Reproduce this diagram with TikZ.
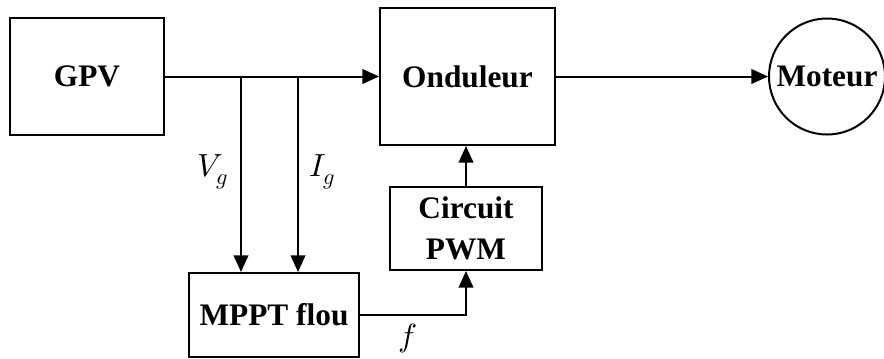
\documentclass[tikz,border=0pt]{standalone}
\usepackage{fontspec}
\usepackage{unicode-math}
\setmainfont{Liberation Serif}
\setmathfont{Latin Modern Math}
\usetikzlibrary{arrows.meta}
\begin{document}
\begin{tikzpicture}[x=0.75pt,y=-0.75pt,
  box/.style={draw,line width=1.5pt,inner sep=0pt,align=center,
    font=\fontsize{23.5}{31}\selectfont\bfseries},
  conn/.style={line width=1.5pt,-{Triangle[length=12.5pt,width=11pt]}},
  lbl/.style={inner sep=0pt,font=\fontsize{24}{28}\selectfont}]
\useasboundingbox (0,0) rectangle (884,358);
\node[box,minimum width=115.5pt,minimum height=87.75pt] (gpv) at (87,76.5) {GPV};
\node[box,minimum width=131.25pt,minimum height=102.75pt] (ond) at (467.5,76.5) {Onduleur};
\node[box,circle,minimum size=87pt] (mot) at (827,76.5) {Moteur};
\node[box,minimum width=114pt,minimum height=62.25pt] (pwm) at (466,228.5) {Circuit\\PWM};
\node[box,minimum width=127.5pt,minimum height=63pt] (mppt) at (274,315) {MPPT flou};
\coordinate (b1) at (241,76.5);
\coordinate (b2) at (298,76.5);
\draw[conn] (gpv.east) -- (ond.west);
\draw[conn] (ond.east) -- (mot.west);
\draw[conn] (b1) -- (b1 |- mppt.north);
\draw[conn] (b2) -- (b2 |- mppt.north);
\draw[conn] (pwm.north) -- (pwm.north |- ond.south);
\draw[conn] (mppt.east) -| (pwm.south);
\node[lbl] (vg) at (213,172) {$V_g$};
\node[lbl] (ig) at (322,172) {$I_g$};
\node[lbl] (f) at (408,338) {$f$};
\end{tikzpicture}
\end{document}
